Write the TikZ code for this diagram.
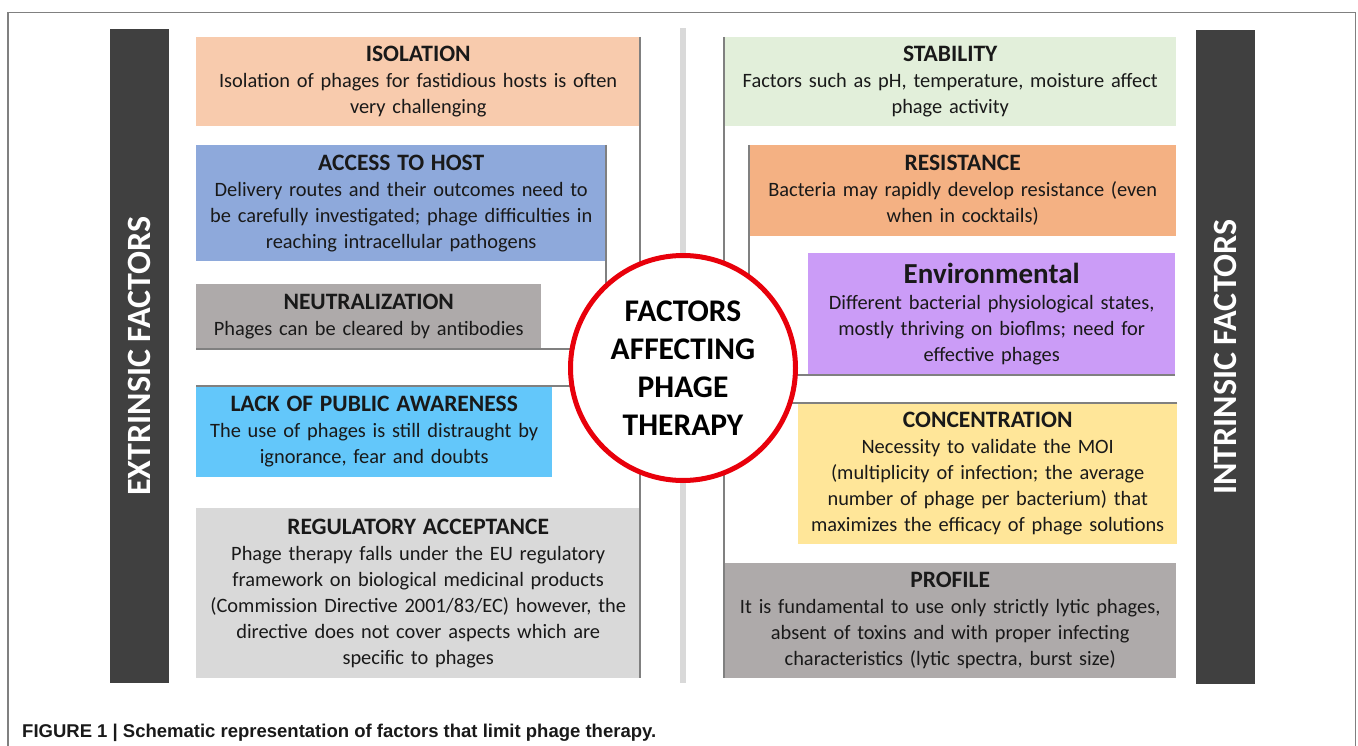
\documentclass[tikz,border=0pt]{standalone}
\usepackage{fontspec}
\setmainfont{Carlito}
\newfontfamily\capfont{Liberation Sans}
\definecolor{barcol}{HTML}{404040}
\definecolor{rulecol}{HTML}{808080}
\definecolor{divcol}{HTML}{D9D9D9}
\definecolor{hubred}{HTML}{E8000B}
\definecolor{isocol}{HTML}{F8CBAD}
\definecolor{hostcol}{HTML}{8EA9DB}
\definecolor{neutcol}{HTML}{AEAAAA}
\definecolor{awarecol}{HTML}{63C7FA}
\definecolor{regcol}{HTML}{D9D9D9}
\definecolor{stabcol}{HTML}{E2EFDA}
\definecolor{rescol}{HTML}{F4B183}
\definecolor{envcol}{HTML}{CB9CF7}
\definecolor{conccol}{HTML}{FFE699}
\definecolor{profcol}{HTML}{AEAAAA}
\newcommand{\fhead}[1]{{\bfseries\fontsize{23.5}{26}\selectfont #1}\\}
\begin{document}
\begin{tikzpicture}[x=1pt,y=-1pt,
    factor/.style={anchor=north west, inner xsep=4pt, inner ysep=0pt, align=center,
        font=\fontsize{20.4}{26}\selectfont, text=black!90},
    sidebar/.style={fill=barcol, rotate=90, text=white, inner sep=0pt,
        minimum width=653pt, minimum height=59pt, font=\bfseries\fontsize{34}{36}\selectfont},
    bracket/.style={draw=rulecol, line width=2pt}]
    \useasboundingbox (0,0) rectangle (1358,746);

    % frame and middle divider
    \draw[rulecol, line width=1.5pt] (8,746) |- (1355.5,12.5) -- (1355.5,746);
    \fill[divcol] (680,28) rectangle (686,683);

    % extrinsic side
    \node[sidebar] (extr) at (139.5,356) {EXTRINSIC FACTORS};
    \node[factor, fill=isocol, text width=436pt, minimum height=89pt] (iso) at (196,37)
        {\fhead{ISOLATION}Isolation of phages for fastidious hosts is often\\very challenging};
    \node[factor, fill=hostcol, text width=402pt, minimum height=116pt] (host) at (196,145)
        {\fhead{ACCESS TO HOST}Delivery routes and their outcomes need to\\be carefully investigated; phage difficulties in\\reaching intracellular pathogens};
    \node[factor, fill=neutcol, text width=337pt, minimum height=65pt] (neut) at (196,284)
        {\fhead{NEUTRALIZATION}Phages can be cleared by antibodies};
    \node[factor, fill=awarecol, text width=348pt, minimum height=91pt] (aware) at (196,386)
        {\fhead{LACK OF PUBLIC AWARENESS}The use of phages is still distraught by\\ignorance, fear and doubts};
    \node[factor, fill=regcol, text width=436pt, minimum height=170pt] (reg) at (196,508)
        {\fhead{REGULATORY ACCEPTANCE}Phage therapy falls under the EU regulatory\\framework on biological medicinal products\\(Commission Directive 2001/83/EC) however, the\\directive does not cover aspects which are\\specific to phages};
    \draw[bracket] (iso.north east) -- (reg.south east);
    \draw[bracket] (host.north east) |- (neut.south west);
    \draw[bracket] (aware.north west) -- (aware.north west -| iso.east);

    % intrinsic side
    \node[sidebar] (intr) at (1225,357) {INTRINSIC FACTORS};
    \node[factor, fill=stabcol, text width=444pt, minimum height=89pt] (stab) at (724,37)
        {\fhead{STABILITY}Factors such as pH, temperature, moisture affect\\phage activity};
    \node[factor, fill=rescol, text width=419pt, minimum height=91pt] (res) at (749,145)
        {\fhead{RESISTANCE}Bacteria may rapidly develop resistance (even\\when in cocktails)};
    \node[factor, fill=envcol, text width=359pt, minimum height=122pt] (env) at (808,253)
        {{\bfseries\fontsize{29}{29}\selectfont Environmental}\\Different bacterial physiological states,\\mostly thriving on bioflms; need for\\effective phages};
    \node[factor, fill=conccol, text width=371pt, minimum height=141pt] (conc) at (798,403)
        {\fhead{CONCENTRATION}Necessity to validate the MOI\\(multiplicity of infection; the average\\number of phage per bacterium) that\\maximizes the efficacy of phage solutions};
    \node[factor, fill=profcol, text width=444pt, minimum height=115pt] (prof) at (724,563)
        {\fhead{PROFILE}It is fundamental to use only strictly lytic phages,\\absent of toxins and with proper infecting\\characteristics (lytic spectra, burst size)};
    \draw[bracket] (stab.north west) -- (prof.south west);
    \draw[bracket] (res.north west) |- (env.south east);
    \draw[bracket] (conc.north east) -- (conc.north east -| stab.west);

    % centre
    \node[circle, draw=hubred, line width=5pt, fill=white, minimum size=225pt, inner sep=0pt,
        align=center, font=\bfseries\fontsize{31.5}{38}\selectfont] (hub) at (683,368)
        {FACTORS\\AFFECTING\\PHAGE\\THERAPY};

    % caption
    \node[anchor=base west, inner sep=0pt, text=black!90,
        font=\capfont\bfseries\fontsize{18.5}{20}\selectfont] (cap) at (22,737)
        {FIGURE 1 | Schematic representation of factors that limit phage therapy.};
\end{tikzpicture}
\end{document}
